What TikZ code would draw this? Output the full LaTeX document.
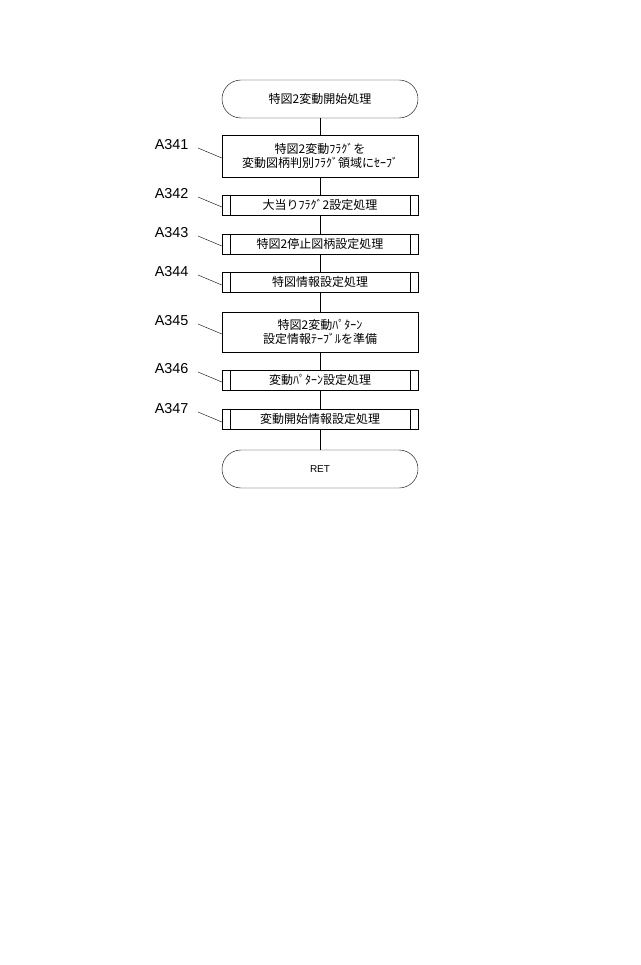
\documentclass[tikz,border=0pt]{standalone}
\usepackage{fontspec}
\newfontfamily\jp{Noto Sans CJK JP}
\newfontfamily\lab{Liberation Sans}
\usetikzlibrary{positioning}
\tikzset{
  x=1pt, y=-1pt,
  term/.style={draw, rounded corners=19pt, minimum width=196pt, minimum height=38pt, font=\jp\large},
  proc/.style={draw, minimum width=196pt, font=\jp\large, align=center, inner sep=1pt},
  sub/.style={proc, minimum height=20pt,
    append after command={
      \pgfextra{\let\mynode\tikzlastnode}
      ([xshift=8pt]\mynode.north west) edge ([xshift=8pt]\mynode.south west)
      ([xshift=-8pt]\mynode.north east) edge ([xshift=-8pt]\mynode.south east)}},
  steplabel/.style={font=\lab\Large, anchor=east},
  lead/.style={thin}
}
\begin{document}
\begin{tikzpicture}
\useasboundingbox (0,0) rectangle (640,965);
\node[term] (start) at (320,99) {特図2変動開始処理};
\node[proc, minimum height=42pt] (a341) at (320,156) {特図2変動ﾌﾗｸﾞを\\変動図柄判別ﾌﾗｸﾞ領域にｾｰﾌﾞ};
\node[sub] (a342) at (320,205) {大当りﾌﾗｸﾞ2設定処理};
\node[sub] (a343) at (320,244) {特図2停止図柄設定処理};
\node[sub] (a344) at (320,282) {特図情報設定処理};
\node[proc, minimum height=40pt] (a345) at (320,332) {特図2変動ﾊﾟﾀｰﾝ\\設定情報ﾃｰﾌﾞﾙを準備};
\node[sub] (a346) at (320,380) {変動ﾊﾟﾀｰﾝ設定処理};
\node[sub] (a347) at (320,419) {変動開始情報設定処理};
\node[term, font=\lab\normalsize] (ret) at (320,469) {RET};
% flow
\foreach \u/\v in {start/a341, a341/a342, a342/a343, a343/a344, a344/a345, a345/a346, a346/a347, a347/ret}
  \draw (\u) -- (\v);
% step labels
\foreach \n/\y in {341/145, 342/194, 343/233, 344/272, 345/321, 346/369, 347/409}{
  \node[steplabel] (l\n) at (192,\y) {A\n};
  \draw[lead] (198,\y+3) -- (a\n.west |- 0,\y+13);
}
\end{tikzpicture}
\end{document}
